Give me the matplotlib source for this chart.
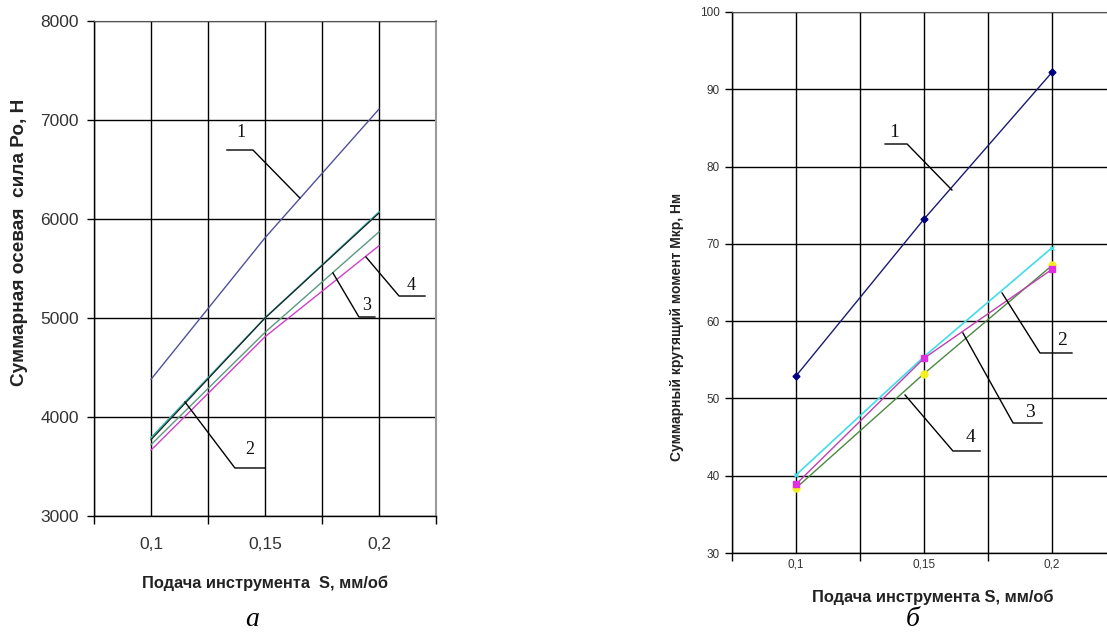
import matplotlib
matplotlib.use("Agg")
import matplotlib.pyplot as plt

# feed values S, mm/rev
feed = [0.1, 0.15, 0.2]
feed_labels = ["0,1", "0,15", "0,2"]

# (a) total axial force Po, N
force_1 = [4380, 5810, 7110]
force_2_teal = [3790, 5000, 6070]
force_2_black = [3770, 5000, 6060]
force_3 = [3720, 4855, 5870]
force_4 = [3665, 4810, 5730]

# (б) total torque Mkr, N*m
torque_1 = [52.9, 73.2, 92.2]
torque_2 = [40.1, 55.4, 69.5]
torque_3 = [38.9, 55.2, 66.7]
torque_4 = [38.4, 53.2, 67.2]

plt.rcParams['font.family'] = ['Liberation Sans', 'DejaVu Sans']

fig = plt.figure(figsize=(11.07, 6.35), dpi=100)
fig.patch.set_facecolor('white')

ax1 = fig.add_axes([94/1107, 1 - 516/635, 342/1107, 495/635])
ax2 = fig.add_axes([732/1107, 1 - 553/635, 384/1107, 541/635])


def style_axis(ax, ymin, ymax, ystep, fsize, xpad, ypad):
    ax.set_xlim(0.075, 0.225)
    ax.set_ylim(ymin, ymax)
    ax.set_xticks(feed)
    ax.set_xticklabels(feed_labels)
    ax.set_xticks([0.075, 0.125, 0.175, 0.225], minor=True)
    ax.set_yticks(list(range(ymin, ymax + 1, ystep)))
    ax.tick_params(axis='x', which='major', length=0, pad=xpad, labelsize=fsize, labelcolor='#333333')
    ax.tick_params(axis='x', which='minor', length=6, width=1, color='black', direction='out')
    ax.tick_params(axis='y', length=5, width=1, pad=ypad, labelsize=fsize, labelcolor='#333333')
    ax.grid(True, which='both', axis='x', color='black', linewidth=1.0)
    ax.grid(True, which='major', axis='y', color='black', linewidth=1.0)
    ax.set_axisbelow(True)
    for s in ['left', 'bottom']:
        ax.spines[s].set_color('black')
        ax.spines[s].set_linewidth(1.0)
    ax.spines['top'].set_color('#555555')
    ax.spines['right'].set_color('#9a9a9a')
    ax.spines['right'].set_linewidth(1.5)


style_axis(ax1, 3000, 8000, 1000, 12.5, 15, 6)
style_axis(ax2, 30, 100, 10, 8.5, 4, 4)

# left chart lines
ax1.plot(feed, force_1, color='#50509a', linewidth=1.0, zorder=3)
ax1.plot(feed, force_2_teal, color='#2bb5a8', linewidth=1.2, zorder=3)
ax1.plot(feed, force_2_black, color='#222222', linewidth=0.9, zorder=3)
ax1.plot(feed, force_3, color='#5a9a80', linewidth=1.0, zorder=3)
ax1.plot(feed, force_4, color='#d040c8', linewidth=1.0, zorder=3)

# right chart lines
ax2.plot(feed, torque_1, color='#1a1a70', linewidth=1.0, marker='D', markersize=3.5,
         markerfacecolor='#000080', markeredgecolor='#000080', zorder=4)
ax2.plot(feed, torque_2, color='#40dde8', linewidth=1.2, marker='x', markersize=3,
         markeredgecolor='#40dde8', zorder=3)
ax2.plot(feed, torque_4, color='#4a8a40', linewidth=1.0, marker='o', markersize=5,
         markerfacecolor='#f4f020', markeredgecolor='#f4f020', zorder=3)
ax2.plot(feed, torque_3, color='#c040b0', linewidth=1.0, marker='s', markersize=4.5,
         markerfacecolor='#e030e0', markeredgecolor='#e030e0', zorder=4)

# leader labels
lab_font = dict(family=['Liberation Serif', 'DejaVu Serif'], color='#111111')


def leader(ax, pts, text, tx, ty, size):
    xs = [p[0] for p in pts]
    ys = [p[1] for p in pts]
    ax.plot(xs, ys, color='black', linewidth=1.0, zorder=7)
    ax.text(tx, ty, text, fontsize=size, ha='center', va='center', zorder=6,
            bbox=dict(facecolor='white', edgecolor='none', pad=1.0), **lab_font)


leader(ax1, [(0.1333, 6697), (0.1447, 6697), (0.1653, 6212)], "1", 0.1395, 6870, 13)
leader(ax1, [(0.1149, 4152), (0.1368, 3485), (0.1500, 3485)], "2", 0.1434, 3667, 13)
leader(ax1, [(0.1798, 5455), (0.1912, 5010), (0.1982, 5010)], "3", 0.1947, 5131, 13)
leader(ax1, [(0.1943, 5616), (0.2088, 5222), (0.2202, 5222)], "4", 0.2140, 5333, 13)

leader(ax2, [(0.1348, 82.92), (0.1434, 82.92), (0.1609, 76.97)], "1", 0.1383, 84.35, 14)
leader(ax2, [(0.1805, 63.64), (0.1953, 55.88), (0.2078, 55.88)], "2", 0.2039, 57.56, 14)
leader(ax2, [(0.1652, 58.47), (0.1848, 46.82), (0.1961, 46.82)], "3", 0.1914, 48.24, 14)
leader(ax2, [(0.1426, 50.44), (0.1613, 43.20), (0.1719, 43.20)], "4", 0.1680, 44.88, 14)

# axis titles
fig.text(20/1107, 1 - 242/635, "Суммарная осевая  сила Ро, Н", rotation=90,
         ha='center', va='center', fontsize=13.7, fontweight='bold', color='#222222')
fig.text(265/1107, 1 - 583/635, "Подача инструмента  S, мм/об",
         ha='center', va='center', fontsize=11.8, fontweight='bold', color='#222222')
fig.text(677/1107, 1 - 327/635, "Суммарный крутящий момент Мкр, Нм", rotation=90,
         ha='center', va='center', fontsize=10, fontweight='bold', color='#222222')
fig.text(933/1107, 1 - 597/635, "Подача инструмента S, мм/об",
         ha='center', va='center', fontsize=11.8, fontweight='bold', color='#222222')

fig.text(252/1107, 1 - 620/635, "а", ha='center', va='center', fontsize=20,
         style='italic', family=['Liberation Serif', 'DejaVu Serif'])
fig.text(913/1107, 1 - 620/635, "б", ha='center', va='center', fontsize=20,
         style='italic', family=['Liberation Serif', 'DejaVu Serif'])

fig.savefig("out.png", dpi=100, facecolor='white')
